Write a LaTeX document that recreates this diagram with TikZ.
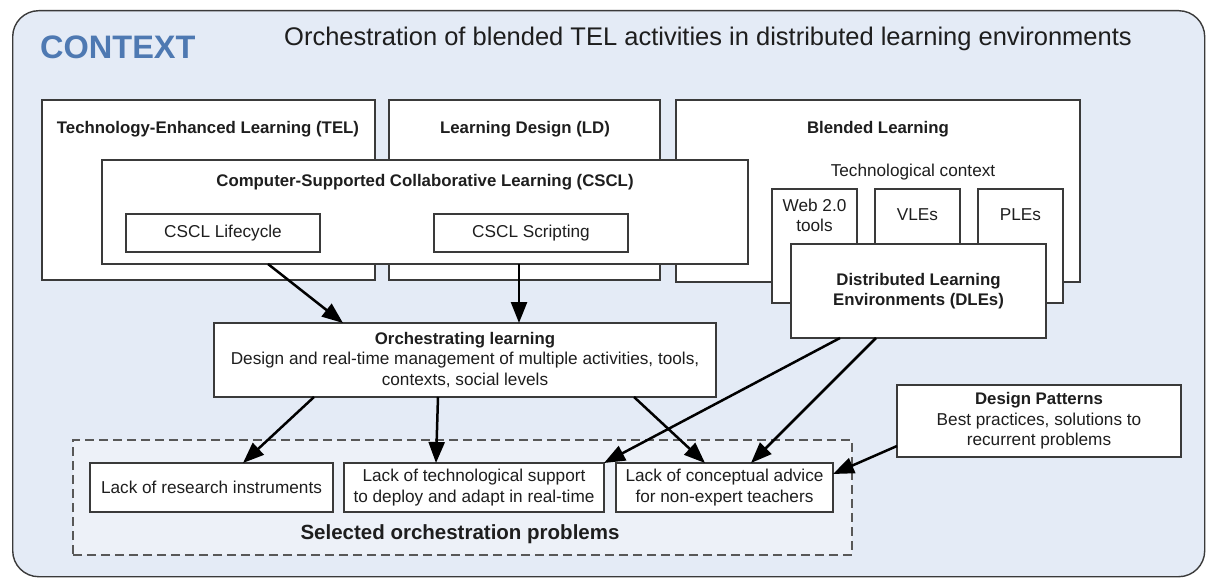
\documentclass[tikz,border=0pt]{standalone}
\usepackage{fontspec}
\setmainfont{Liberation Sans}
\usetikzlibrary{arrows.meta}
\definecolor{bgblue}{HTML}{E4EBF6}
\definecolor{dashfill}{HTML}{EDF1F8}
\definecolor{ctxblue}{HTML}{4E79B2}
\definecolor{edge}{HTML}{3A3A3A}
\definecolor{txt}{HTML}{1E1E1E}
\tikzset{
  box/.style={draw=edge, line width=1.4pt, fill=white, inner sep=0pt, outer sep=0pt, text=txt, align=center},
  ttl/.style={font=\fontsize{16.8}{20}\selectfont\bfseries, text=txt, inner sep=0pt, align=center},
  lbl/.style={font=\fontsize{17.2}{20}\selectfont, text=txt, inner sep=0pt, align=center},
  boxfont/.style={font=\fontsize{17.2}{20.5}\selectfont},
  arr/.style={line width=2.5pt, draw=black, -{Triangle[length=21pt,width=16pt]}}
}
\begin{document}
\begin{tikzpicture}[x=1pt,y=-1pt]
\useasboundingbox (0,0) rectangle (1208,578);
% outer context frame
\node[draw=edge, line width=1.4pt, fill=bgblue, rounded corners=26pt, minimum width=1192pt, minimum height=566pt, anchor=north west, inner sep=0pt] (frame) at (12,10) {};
\node[font=\fontsize{32.5}{36}\selectfont\bfseries, text=ctxblue, anchor=west, inner sep=0pt] (ctx) at (40,47) {CONTEXT};
\node[font=\fontsize{25.5}{30}\selectfont, text=txt, anchor=west, inner sep=0pt] (title) at (284,39) {Orchestration of blended TEL activities in distributed learning environments};
% big boxes
\node[box, minimum width=333pt, minimum height=180pt, anchor=north west] (tel) at (42,100) {};
\node[box, minimum width=271pt, minimum height=180pt, anchor=north west] (ld) at (389,100) {};
\node[box, minimum width=404pt, minimum height=182pt, anchor=north west] (bl) at (676,100) {};
\node[ttl] (telt) at (208,129) {Technology-Enhanced Learning (TEL)};
\node[ttl] (ldt) at (525,129) {Learning Design (LD)};
\node[ttl] (blt) at (878,129) {Blended Learning};
\node[lbl] (tc) at (913,172) {Technological context};
% CSCL
\node[box, minimum width=646pt, minimum height=104pt, anchor=north west] (cscl) at (102,160) {};
\node[ttl] (csclt) at (425,182) {Computer-Supported Collaborative Learning (CSCL)};
\node[box, boxfont, minimum width=194pt, minimum height=38pt, anchor=north west] (life) at (126,214) {CSCL Lifecycle};
\node[box, boxfont, minimum width=194pt, minimum height=38pt, anchor=north west] (scr) at (434,214) {CSCL Scripting};
% technological context boxes
\node[box, minimum width=85pt, minimum height=114pt, anchor=north west] (web) at (772,189) {};
\node[box, minimum width=85pt, minimum height=114pt, anchor=north west] (vle) at (875,189) {};
\node[box, minimum width=85pt, minimum height=114pt, anchor=north west] (ple) at (978,189) {};
\node[lbl] (webt) at (814.5,215) {Web 2.0\\tools};
\node[lbl] (vlet) at (917.5,215) {VLEs};
\node[lbl] (plet) at (1020.5,215) {PLEs};
\node[box, minimum width=255pt, minimum height=94pt, anchor=north west, font=\fontsize{16.8}{20}\selectfont\bfseries] (dle) at (791,244) {Distributed Learning\\Environments (DLEs)};
% orchestrating learning
\node[box, boxfont, minimum width=502pt, minimum height=74pt, anchor=north west] (orch) at (214,323) {{\fontsize{16.8}{20.5}\selectfont\bfseries Orchestrating learning}\\Design and real-time management of multiple activities, tools,\\contexts, social levels};
% selected problems
\node[draw=edge!85, line width=1.8pt, dash pattern=on 9pt off 5pt, fill=dashfill, minimum width=779pt, minimum height=115pt, anchor=north west, inner sep=0pt] (sel) at (72,439) {};
\node[font=\fontsize{20.5}{24}\selectfont\bfseries, text=txt, inner sep=0pt] (selt) at (460,534) {Selected orchestration problems};
\node[box, boxfont, minimum width=243pt, minimum height=49pt, anchor=north west] (lri) at (90,463) {Lack of research instruments};
\node[box, boxfont, minimum width=260pt, minimum height=49pt, anchor=north west] (lts) at (344,463) {Lack of technological support\\to deploy and adapt in real-time};
\node[box, boxfont, minimum width=217pt, minimum height=49pt, anchor=north west] (lca) at (616,463) {Lack of conceptual advice\\for non-expert teachers};
% design patterns
\node[box, boxfont, minimum width=284pt, minimum height=72pt, anchor=north west] (dp) at (897,385) {{\fontsize{16.8}{20.5}\selectfont\bfseries Design Patterns}\\Best practices, solutions to\\recurrent problems};
% arrows
\draw[arr] ([xshift=-157pt]cscl.south) -- ([xshift=-122pt]orch.north);
\draw[arr] ([xshift=94pt]cscl.south) -- ([xshift=54pt]orch.north);
\draw[arr] ([xshift=-151pt]orch.south) -- ([xshift=31.5pt]lri.north);
\draw[arr] ([xshift=-27pt]orch.south) -- ([xshift=-38pt]lts.north);
\draw[arr] ([xshift=169pt]orch.south) -- ([xshift=-19.5pt]lca.north);
\draw[arr] ([xshift=-78.5pt]dle.south) -- (lts.north east);
\draw[arr] ([xshift=-42.5pt]dle.south) -- ([xshift=26.5pt]lca.north);
\draw[arr] ([yshift=-25pt]dp.west) -- ([yshift=13.5pt]lca.east);
\end{tikzpicture}
\end{document}
